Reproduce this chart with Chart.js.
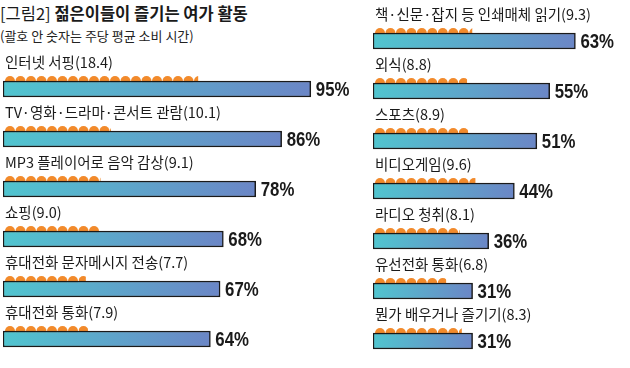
<!DOCTYPE html>
<html>
<head>
<meta charset="utf-8">
<script src="https://cdn.jsdelivr.net/npm/chart.js@4.4.0/dist/chart.umd.min.js"></script>
<style>
  body { margin: 0; background: #fff; }
  #wrap { position: relative; width: 630px; height: 368px; overflow: hidden; font-family: 'Noto Sans CJK KR', sans-serif; color: #1a1a1a; }
  #title { position: absolute; left: 0; top: 3px; font-size: 16.5px; line-height: 20px; white-space: nowrap; }
  #title b { font-weight: 700; }
  #sub { position: absolute; left: 0; top: 28px; font-size: 13px; line-height: 16px; white-space: nowrap; color: #222; }
  canvas { position: absolute; top: 0; }
</style>
</head>
<body>
<div id="wrap">
  <div id="title">[그림2] <b>젊은이들이 즐기는 여가 활동</b></div>
  <div id="sub">(괄호 안 숫자는 주당 평균 소비 시간)</div>
  <canvas id="leftChart" width="360" height="368" style="left:0"></canvas>
  <canvas id="rightChart" width="270" height="368" style="left:360px"></canvas>
</div>
<script>
var leftLabels = ['인터넷 서핑', 'TV·영화·드라마·콘서트 관람', 'MP3 플레이어로 음악 감상', '쇼핑', '휴대전화 문자메시지 전송', '휴대전화 통화'];
var leftHours = [18.4, 10.1, 9.1, 9.0, 7.7, 7.9];
var leftPct = [95, 86, 78, 68, 67, 64];

var rightLabels = ['책·신문·잡지 등 인쇄매체 읽기', '외식', '스포츠', '비디오게임', '라디오 청취', '유선전화 통화', '뭔가 배우거나 즐기기'];
var rightHours = [9.3, 8.8, 8.9, 9.6, 8.1, 6.8, 8.3];
var rightPct = [63, 55, 51, 44, 36, 31, 31];

var CYAN = '#50c5cf';
var BLUE = '#6b86c6';
var DOT = '#f28a2b';

// labels above each bar, hour dots, and % at bar end
var activityPlugin = {
    id: 'activity',
    beforeDatasetsDraw: function (chart) {
        var ctx = chart.ctx;
        var bars = chart.getDatasetMeta(0).data;
        var hourBars = chart.getDatasetMeta(1).data;
        var hours = chart.data.datasets[1].data;
        ctx.save();
        ctx.fillStyle = DOT;
        hourBars.forEach(function (hb, i) {
            var top = bars[i].y - bars[i].height / 2;
            var step = (hb.x - hb.base) / hours[i];
            var n = Math.floor(hours[i] + 1e-6);
            var frac = hours[i] - n;
            var r = 5;
            for (var k = 0; k < n; k++) {
                ctx.beginPath();
                ctx.arc(hb.base + 2 + step * k + r, top, r, 0, Math.PI * 2);
                ctx.fill();
            }
            if (frac > 0.05) {
                var x0 = hb.base + 2 + step * n;
                ctx.save();
                ctx.beginPath();
                ctx.rect(x0, top - r - 1, frac * step, r + 2);
                ctx.clip();
                ctx.beginPath();
                ctx.arc(x0 + r, top, r, 0, Math.PI * 2);
                ctx.fill();
                ctx.restore();
            }
        });
        ctx.restore();
    },
    afterDatasetsDraw: function (chart) {
        var ctx = chart.ctx;
        var bars = chart.getDatasetMeta(0).data;
        var pct = chart.data.datasets[0].data;
        var hours = chart.data.datasets[1].data;
        ctx.save();
        bars.forEach(function (b, i) {
            var top = b.y - b.height / 2;
            ctx.fillStyle = '#1a1a1a';
            ctx.font = '14.5px "Noto Sans CJK KR"';
            ctx.textAlign = 'left';
            ctx.textBaseline = 'alphabetic';
            ctx.fillText(chart.data.labels[i] + '(' + hours[i].toFixed(1) + ')', b.base + 2, top - 13);
            // condensed bold figure
            ctx.save();
            ctx.translate(b.x + 5, b.y + 1);
            ctx.scale(0.84, 1);
            ctx.font = 'bold 20px "Liberation Sans", sans-serif';
            ctx.textBaseline = 'middle';
            ctx.fillText(pct[i] + '%', 0, 0);
            ctx.restore();
        });
        ctx.restore();
    }
};

function makeChart(id, labels, pct, hours, xMax, hourMax, pad) {
    var c = document.getElementById(id).getContext('2d');
    return new Chart(c, {
        type: 'bar',
        data: {
            labels: labels,
            datasets: [{
                data: pct,
                xAxisID: 'x',
                grouped: false,
                barThickness: 16,
                borderWidth: 1.5,
                borderColor: '#1a1a1a',
                borderSkipped: false,
                backgroundColor: function (context) {
                    var chart = context.chart;
                    if (!chart.chartArea) return CYAN;
                    var sx = chart.scales.x;
                    var g = chart.ctx.createLinearGradient(sx.getPixelForValue(0), 0, sx.getPixelForValue(context.raw), 0);
                    g.addColorStop(0, CYAN);
                    g.addColorStop(1, BLUE);
                    return g;
                }
            }, {
                data: hours,
                xAxisID: 'xh',
                grouped: false,
                barThickness: 2,
                backgroundColor: 'rgba(0,0,0,0)',
                borderWidth: 0
            }]
        },
        options: {
            indexAxis: 'y',
            responsive: false,
            animation: false,
            devicePixelRatio: 1,
            layout: { padding: pad },
            scales: {
                x: { display: false, min: 0, max: xMax },
                xh: { display: false, min: 0, max: hourMax, axis: 'x' },
                y: { display: false }
            },
            plugins: {
                legend: { display: false },
                tooltip: { enabled: false }
            }
        },
        plugins: [activityPlugin]
    });
}

makeChart('leftChart', leftLabels, leftPct, leftHours, 100, 30.86, { left: 3, right: 33, top: 64, bottom: 4 });
makeChart('rightChart', rightLabels, rightPct, rightHours, 80, 24.57, { left: 13, right: -1, top: 16, bottom: 2 });
</script>
</body>
</html>
